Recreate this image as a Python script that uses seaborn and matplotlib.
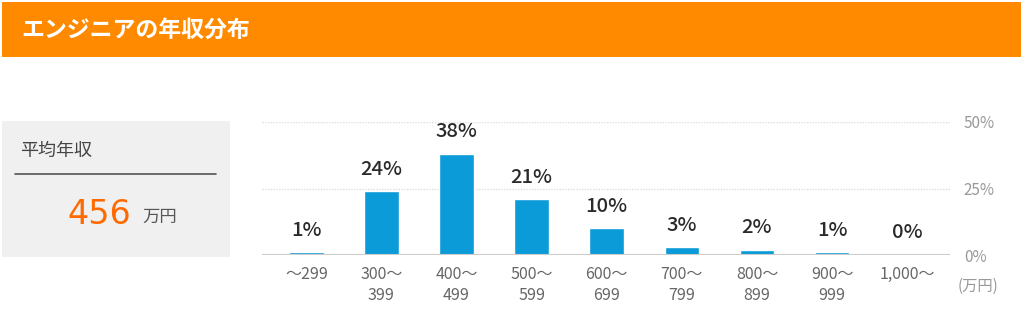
import matplotlib
matplotlib.use("Agg")
import matplotlib.pyplot as plt
import seaborn as sns
import pandas as pd
from matplotlib.patches import Rectangle
from matplotlib.lines import Line2D

categories = ["～299", "300～\n399", "400～\n499", "500～\n599", "600～\n699",
              "700～\n799", "800～\n899", "900～\n999", "1,000～"]
values = [1, 24, 38, 21, 10, 3, 2, 1, 0]
value_labels = ["1%", "24%", "38%", "21%", "10%", "3%", "2%", "1%", "0%"]
y_ticks = [0, 25, 50]
y_tick_labels = ["0%", "25%", "50%"]
title = "エンジニアの年収分布"
avg_label = "平均年収"
avg_value = "456"
avg_unit = "万円"
unit_label = "(万円)"

sns.set_theme(style="white")
plt.rcParams['font.family'] = ['Noto Sans CJK JP', 'DejaVu Sans']

W, H = 1024, 309
fig = plt.figure(figsize=(W / 100, H / 100), dpi=100)

def fx(px):
    return px / W

def fy(py):
    return 1 - py / H

# Orange banner
fig.patches.append(Rectangle((fx(2), fy(57)), fx(1019), 55 / H, transform=fig.transFigure,
                             facecolor="#FF8A00", edgecolor="none", zorder=0))
fig.text(fx(21), fy(30), title, color="white", fontsize=16.5, fontweight="bold",
         va="center", ha="left")

# Gray average box
fig.patches.append(Rectangle((fx(2), fy(257)), fx(228), 136 / H, transform=fig.transFigure,
                             facecolor="#F0F0F0", edgecolor="none", zorder=0))
fig.text(fx(20), fy(151), avg_label, color="#444444", fontsize=13, va="center", ha="left")
fig.lines.append(Line2D([fx(15), fx(216)], [fy(174), fy(174)], transform=fig.transFigure,
                        color="#555555", linewidth=1.2))
fig.text(fx(131), fy(214.5), avg_value, color="#FF6A00", fontsize=24, va="center",
         ha="right", family=["DejaVu Sans"], fontweight="normal")
fig.text(fx(142), fy(217), avg_unit, color="#555555", fontsize=12.5, va="center", ha="left")

# Bar chart
ax = fig.add_axes([fx(262), fy(255), fx(950 - 262), (255 - 122) / H])
df = pd.DataFrame({"cat": categories, "val": values})
sns.barplot(data=df, x="cat", y="val", color="#0A9BD8", saturation=1, width=0.46,
            ax=ax, zorder=3)
ax.set_ylim(0, 50)
ax.set_xlim(-0.59, 8.57)
for i, (v, lab) in enumerate(zip(values, value_labels)):
    ax.annotate(lab, (i, v), xytext=(0, 9), textcoords="offset points",
                ha="center", va="bottom", fontsize=14.5, color="#2a2a2a",
                fontweight="medium", annotation_clip=False)

for y in y_ticks[1:]:
    ax.axhline(y, color="#DDDDDD", linestyle=(0, (1, 1)), linewidth=1, zorder=1)
ax.axhline(0, color="#CCCCCC", linewidth=1.5, zorder=4)

for s in ax.spines.values():
    s.set_visible(False)
ax.set_xlabel("")
ax.set_ylabel("")
ax.yaxis.tick_right()
ax.set_yticks(y_ticks)
ax.set_yticklabels(y_tick_labels, color="#999999", fontsize=11)
ax.tick_params(axis="y", length=0, pad=10)
ax.set_xticks(range(len(categories)))
ax.set_xticklabels(categories, color="#666666", fontsize=11.5, linespacing=1.3)
ax.tick_params(axis="x", length=0, pad=8)
ax.grid(False)

fig.text(fx(958), fy(286), unit_label, color="#999999", fontsize=11, va="center", ha="left")

fig.savefig("out.png", dpi=100)
